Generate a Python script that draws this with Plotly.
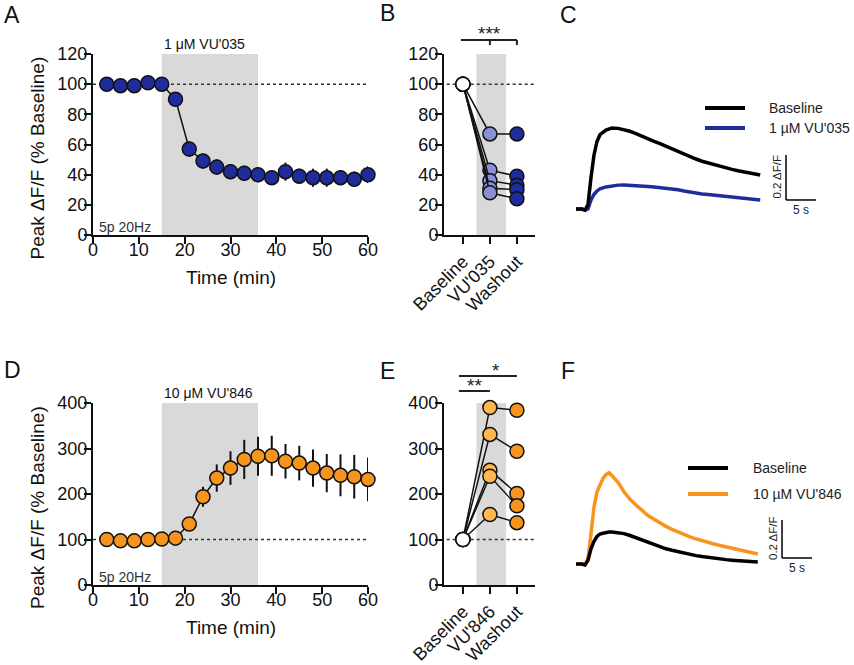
import plotly.graph_objects as go

W, H = 854, 665
FONT = "Liberation Sans, Arial, sans-serif"
INK = "#111111"

# ---------------- data ----------------
time_min = [3, 6, 9, 12, 15, 18, 21, 24, 27, 30, 33, 36, 39, 42, 45, 48, 51, 54, 57, 60]
a_mean = [100, 99, 99, 101, 100, 90, 57, 49, 45, 42, 41, 40, 38, 42, 39, 38, 38, 38, 37, 40]
a_sem = [1, 1.5, 2, 2, 1.5, 3, 5, 5, 5, 5, 5, 5, 4.5, 6, 5, 6, 6, 5, 5, 5.5]
d_mean = [100, 97, 97, 100, 101, 103, 134, 194, 235, 257, 276, 283, 284, 272, 268, 257, 246, 241, 238, 232]
d_sem = [3, 3, 4, 4, 4, 5, 10, 22, 30, 37, 43, 43, 44, 38, 38, 41, 42, 46, 48, 48]
drug_window = [15, 36]
baseline_level = 100

cond_b = ["Baseline", "VU'035", "Washout"]
b_baseline = [100, 100, 100, 100, 100]
b_drug = [67, 43, 36, 31, 28]
b_wash = [67, 39, 33, 30, 24]

cond_e = ["Baseline", "VU'846", "Washout"]
e_baseline = [100, 100, 100, 100, 100]
e_drug = [390, 331, 252, 239, 155]
e_wash = [384, 294, 201, 174, 137]

c_t = [0, 1, 1.5, 2, 2.5, 3, 3.5, 4, 5, 6, 7, 8, 9, 10, 11, 12, 13, 14, 15, 16, 17, 18, 19, 20,
       21, 22, 23, 24, 25, 26, 27, 28, 29, 30, 30.7]
c_base = [0, 0, -0.005, 0.02, 0.14, 0.24, 0.30, 0.33, 0.35, 0.36, 0.358, 0.352, 0.345, 0.335, 0.322,
          0.31, 0.30, 0.29, 0.278, 0.266, 0.255, 0.243, 0.232, 0.222, 0.212, 0.204, 0.196, 0.189,
          0.182, 0.176, 0.17, 0.165, 0.16, 0.155, 0.151]
c_drug = [0, 0, -0.005, 0.0, 0.04, 0.065, 0.08, 0.09, 0.098, 0.103, 0.106, 0.107, 0.106, 0.104, 0.102,
          0.1, 0.098, 0.095, 0.093, 0.09, 0.085, 0.08, 0.075, 0.07, 0.067, 0.064, 0.061, 0.058,
          0.055, 0.052, 0.05, 0.048, 0.045, 0.042, 0.04]

f_t = [0, 1, 1.5, 2, 2.5, 3, 3.5, 4, 4.5, 5, 5.5, 6, 7, 8, 9, 10, 11, 12, 13, 14, 15, 16, 17, 18, 19,
       20, 21, 22, 23, 24, 25, 26, 27, 28, 29, 30.3]
f_base = [0, 0, -0.005, 0.02, 0.08, 0.12, 0.145, 0.158, 0.162, 0.166, 0.168, 0.168, 0.165, 0.16, 0.15,
          0.138, 0.125, 0.112, 0.1, 0.09, 0.08, 0.072, 0.064, 0.057, 0.05, 0.044, 0.039, 0.034,
          0.03, 0.027, 0.023, 0.02, 0.017, 0.015, 0.012, 0.01]
f_drug = [0, 0, -0.005, 0.03, 0.16, 0.30, 0.38, 0.42, 0.45, 0.47, 0.48, 0.465, 0.43, 0.38, 0.34, 0.31,
          0.28, 0.255, 0.235, 0.215, 0.198, 0.182, 0.168, 0.155, 0.143, 0.132, 0.122, 0.113, 0.105,
          0.097, 0.09, 0.083, 0.076, 0.068, 0.061, 0.053]

BLUE = "#1f2d9c"
BLUE_LIGHT = "#8a8fd6"
ORANGE = "#f7941d"
ORANGE_LIGHT = "#fdb94d"
GRAY = "#d9d9d9"

# ---------------- geometry (pixels) ----------------
PANELS = {
    "A": dict(xpx=(93, 368), ypx=(54, 235), xr=(0, 60), yr=(0, 120)),
    "B": dict(xpx=(444, 535), ypx=(54, 235), xr=(-0.7, 2.67), yr=(0, 120)),
    "C": dict(xpx=(576, 830), ypx=(100, 215), xr=(0, 42.33), yr=(-0.0267, 0.484)),
    "D": dict(xpx=(93, 368), ypx=(403, 585), xr=(0, 60), yr=(0, 400)),
    "E": dict(xpx=(444, 535), ypx=(403, 585), xr=(-0.7, 2.67), yr=(0, 400)),
    "F": dict(xpx=(576, 830), ypx=(440, 570), xr=(0, 42.33), yr=(-0.0316, 0.6526)),
}
AXN = {"A": "", "B": "2", "C": "3", "D": "4", "E": "5", "F": "6"}


def dom_x(p):
    return [p["xpx"][0] / W, p["xpx"][1] / W]


def dom_y(p):
    return [1 - p["ypx"][1] / H, 1 - p["ypx"][0] / H]


def data_to_px(panel, x, y):
    p = PANELS[panel]
    (x0, x1), (y0, y1) = p["xpx"], p["ypx"]
    (r0, r1), (s0, s1) = p["xr"], p["yr"]
    px = x0 + (x - r0) / (r1 - r0) * (x1 - x0)
    py = y1 - (y - s0) / (s1 - s0) * (y1 - y0)
    return px, py


def paper(px, py):
    return px / W, 1 - py / H


fig = go.Figure()

axis_style = dict(showline=True, linecolor=INK, linewidth=2, ticks="outside", ticklen=7,
                  tickwidth=2, tickcolor=INK, showgrid=False, zeroline=False, automargin=False,
                  tickfont=dict(size=18, color=INK, family=FONT), fixedrange=True)

layout_axes = {}
for key, p in PANELS.items():
    n = AXN[key]
    xa = dict(domain=dom_x(p), range=list(p["xr"]), anchor="y" + n)
    ya = dict(domain=dom_y(p), range=list(p["yr"]), anchor="x" + n)
    if key in ("C", "F"):
        xa.update(visible=False, fixedrange=True, automargin=False, showgrid=False, zeroline=False)
        ya.update(visible=False, fixedrange=True, automargin=False, showgrid=False, zeroline=False)
    else:
        xa.update(axis_style)
        ya.update(axis_style, ticklabelstandoff=-7)
    layout_axes["xaxis" + n] = xa
    layout_axes["yaxis" + n] = ya

layout_axes["xaxis"].update(tickvals=[0, 10, 20, 30, 40, 50, 60], ticklabelstandoff=-10)
layout_axes["yaxis"].update(tickvals=[0, 20, 40, 60, 80, 100, 120])
layout_axes["xaxis4"].update(tickvals=[0, 10, 20, 30, 40, 50, 60], ticklabelstandoff=-10)
layout_axes["yaxis4"].update(tickvals=[0, 100, 200, 300, 400])
layout_axes["xaxis2"].update(tickvals=[0, 1, 2], ticktext=cond_b, tickangle=-45)
layout_axes["yaxis2"].update(tickvals=[0, 20, 40, 60, 80, 100, 120])
layout_axes["xaxis5"].update(tickvals=[0, 1, 2], ticktext=cond_e, tickangle=-45)
layout_axes["yaxis5"].update(tickvals=[0, 100, 200, 300, 400])

shapes = []
annotations = []

# ---- time course panels (A, D) ----
for key, mean, sem, col, label in (("A", a_mean, a_sem, BLUE, "1 \u03bcM VU'035"),
                                   ("D", d_mean, d_sem, ORANGE, "10 \u03bcM VU'846")):
    n = AXN[key]
    p = PANELS[key]
    shapes.append(dict(type="rect", xref="x" + n, yref="y" + n, x0=drug_window[0], x1=drug_window[1],
                       y0=p["yr"][0], y1=p["yr"][1], fillcolor=GRAY, line=dict(width=0), layer="below"))
    shapes.append(dict(type="line", xref="x" + n, yref="y" + n, x0=p["xr"][0], x1=p["xr"][1],
                       y0=baseline_level, y1=baseline_level, line=dict(color="#333", width=1.5, dash="dot"),
                       layer="below"))
    fig.add_trace(go.Scatter(
        x=time_min, y=mean, xaxis="x" + n, yaxis="y" + n, mode="lines+markers",
        line=dict(color=INK, width=1.5),
        marker=dict(size=14, color=col, line=dict(color=INK, width=1.5)),
        error_y=dict(type="data", array=sem, visible=True, color=INK, thickness=2, width=0),
        cliponaxis=False, showlegend=False))
    lx, ly = data_to_px(key, drug_window[0], p["yr"][1])
    ax_, ay_ = paper(lx, ly - 10)
    annotations.append(dict(x=ax_, y=ay_, xref="paper", yref="paper", text=label, showarrow=False,
                            xanchor="left", yanchor="middle", font=dict(size=14, color=INK, family=FONT)))
    sx, sy = data_to_px(key, p["xr"][0], p["yr"][0])
    ax_, ay_ = paper(sx + 4, sy - 8)
    annotations.append(dict(x=ax_, y=ay_, xref="paper", yref="paper", text="5p 20Hz", showarrow=False,
                            xanchor="left", yanchor="middle", font=dict(size=14, color="#333", family=FONT)))
    # axis titles
    x0, x1 = p["xpx"]
    y0, y1 = p["ypx"]
    ax_, ay_ = paper(37, (y0 + y1) / 2 + 14)
    annotations.append(dict(x=ax_, y=ay_, xref="paper", yref="paper", text="Peak \u0394F/F (% Baseline)",
                            showarrow=False, textangle=-90, xanchor="center", yanchor="middle",
                            font=dict(size=19, color=INK, family=FONT)))
    ax_, ay_ = paper((x0 + x1) / 2 - 0, y1 + 42)
    annotations.append(dict(x=ax_, y=ay_, xref="paper", yref="paper", text="Time (min)",
                            showarrow=False, xanchor="center", yanchor="middle",
                            font=dict(size=19, color=INK, family=FONT)))

# ---- paired panels (B, E) ----
for key, base, drug, wash, light, dark in (("B", b_baseline, b_drug, b_wash, BLUE_LIGHT, BLUE),
                                          ("E", e_baseline, e_drug, e_wash, ORANGE_LIGHT, ORANGE)):
    n = AXN[key]
    p = PANELS[key]
    shapes.append(dict(type="rect", xref="x" + n, yref="y" + n, x0=0.5, x1=1.6,
                       y0=p["yr"][0], y1=p["yr"][1], fillcolor=GRAY, line=dict(width=0), layer="below"))
    shapes.append(dict(type="line", xref="x" + n, yref="y" + n, x0=p["xr"][0] + 0.1, x1=p["xr"][1],
                       y0=baseline_level, y1=baseline_level, line=dict(color="#333", width=1.5, dash="dot"),
                       layer="below"))
    for b, d, w in zip(base, drug, wash):
        fig.add_trace(go.Scatter(
            x=[0, 1, 2], y=[b, d, w], xaxis="x" + n, yaxis="y" + n, mode="lines+markers",
            line=dict(color=INK, width=1.5),
            marker=dict(size=14, color=["white", light, dark], line=dict(color=INK, width=1.5)),
            cliponaxis=False, showlegend=False))

# significance bars B
bx0, _ = data_to_px("B", 0, 0)
bx1, _ = data_to_px("B", 1, 0)
bx2, _ = data_to_px("B", 2, 0)
ybar = 40
for (xa_, ya_, xb_, yb_) in ((bx0 - 2, ybar, bx2, ybar), (bx1, ybar, bx1, ybar + 5), (bx2, ybar, bx2, ybar + 5)):
    pa, pb = paper(xa_, ya_), paper(xb_, yb_)
    shapes.append(dict(type="line", xref="paper", yref="paper", x0=pa[0], y0=pa[1], x1=pb[0], y1=pb[1],
                       line=dict(color="#222", width=2)))
tx, ty = paper(bx1, ybar - 6)
annotations.append(dict(x=tx, y=ty, xref="paper", yref="paper", text="***", showarrow=False,
                        xanchor="center", yanchor="middle", font=dict(size=19, color="#222", family=FONT)))

# significance bars E
ex0, _ = data_to_px("E", 0, 0)
ex1, _ = data_to_px("E", 1, 0)
ex2, _ = data_to_px("E", 2, 0)
for (xa_, xb_, yy, txt) in ((ex0 - 4, ex2, 376, "*"), (ex0 - 4, ex1, 391, "**")):
    pa, pb = paper(xa_, yy), paper(xb_, yy)
    shapes.append(dict(type="line", xref="paper", yref="paper", x0=pa[0], y0=pa[1], x1=pb[0], y1=pb[1],
                       line=dict(color="#222", width=2)))
    tx, ty = paper((xa_ + xb_) / 2 + (8 if txt == "*" else 0), yy - 6)
    annotations.append(dict(x=tx, y=ty, xref="paper", yref="paper", text=txt, showarrow=False,
                            xanchor="center", yanchor="middle", font=dict(size=19, color="#222", family=FONT)))

# ---- trace panels (C, F) ----
for key, t, base, drug, dcol, dlabel, leg_px, sb_x, sb_y in (
        ("C", c_t, c_base, c_drug, BLUE, "1 \u00b5M VU'035", (705, 108, 20, 767), 35, 0.04),
        ("F", f_t, f_base, f_drug, ORANGE, "10 \u00b5M VU'846", (688, 468, 26, 751), 34.33, 0.0316)):
    n = AXN[key]
    fig.add_trace(go.Scatter(x=t, y=drug, xaxis="x" + n, yaxis="y" + n, mode="lines",
                             line=dict(color=dcol, width=3.5), showlegend=False))
    fig.add_trace(go.Scatter(x=t, y=base, xaxis="x" + n, yaxis="y" + n, mode="lines",
                             line=dict(color="#000", width=3.5), showlegend=False))
    # legend
    lx0, ly0, gap, tx0 = leg_px
    for i, (col, lab) in enumerate((("#000", "Baseline"), (dcol, dlabel))):
        yy = ly0 + i * gap
        pa, pb = paper(lx0, yy), paper(lx0 + 40, yy)
        shapes.append(dict(type="line", xref="paper", yref="paper", x0=pa[0], y0=pa[1], x1=pb[0], y1=pb[1],
                           line=dict(color=col, width=4)))
        tx, ty = paper(tx0, yy)
        annotations.append(dict(x=tx, y=ty, xref="paper", yref="paper", text=lab, showarrow=False,
                                xanchor="left", yanchor="middle", font=dict(size=14, color="#222", family=FONT)))
    # scale bar: 5 s and 0.2 dF/F
    shapes.append(dict(type="line", xref="x" + n, yref="y" + n, x0=sb_x, x1=sb_x, y0=sb_y, y1=sb_y + 0.2,
                       line=dict(color="#000", width=1.5)))
    shapes.append(dict(type="line", xref="x" + n, yref="y" + n, x0=sb_x, x1=sb_x + 5, y0=sb_y, y1=sb_y,
                       line=dict(color="#000", width=1.5)))
    annotations.append(dict(x=sb_x + 2.5, y=sb_y, xref="x" + n, yref="y" + n, text="5 s", showarrow=False,
                            yshift=-10, xanchor="center", yanchor="middle",
                            font=dict(size=12, color="#222", family=FONT)))
    annotations.append(dict(x=sb_x, y=sb_y + 0.1, xref="x" + n, yref="y" + n, text="0.2 \u0394F/F",
                            showarrow=False, textangle=-90, xshift=-9, xanchor="center", yanchor="middle",
                            font=dict(size=11.5, color="#222", family=FONT)))

# ---- panel letters ----
for lab, (px_, py_) in {"A": (12, 15), "B": (387, 13), "C": (568, 15),
                        "D": (12, 370), "E": (387, 371), "F": (568, 371)}.items():
    tx, ty = paper(px_, py_)
    annotations.append(dict(x=tx, y=ty, xref="paper", yref="paper", text=lab, showarrow=False,
                            xanchor="center", yanchor="middle", font=dict(size=23, color=INK, family=FONT)))

fig.update_layout(
    template="none",
    width=W, height=H, margin=dict(l=0, r=0, t=0, b=0, pad=0, autoexpand=False),
    paper_bgcolor="white", plot_bgcolor="white",
    font=dict(family=FONT, color=INK),
    shapes=shapes, annotations=annotations, showlegend=False,
    **layout_axes,
)

fig.write_html("out.html", config={"displayModeBar": False, "staticPlot": True},
               post_script="document.body.style.margin='0';document.body.style.overflow='hidden';")
